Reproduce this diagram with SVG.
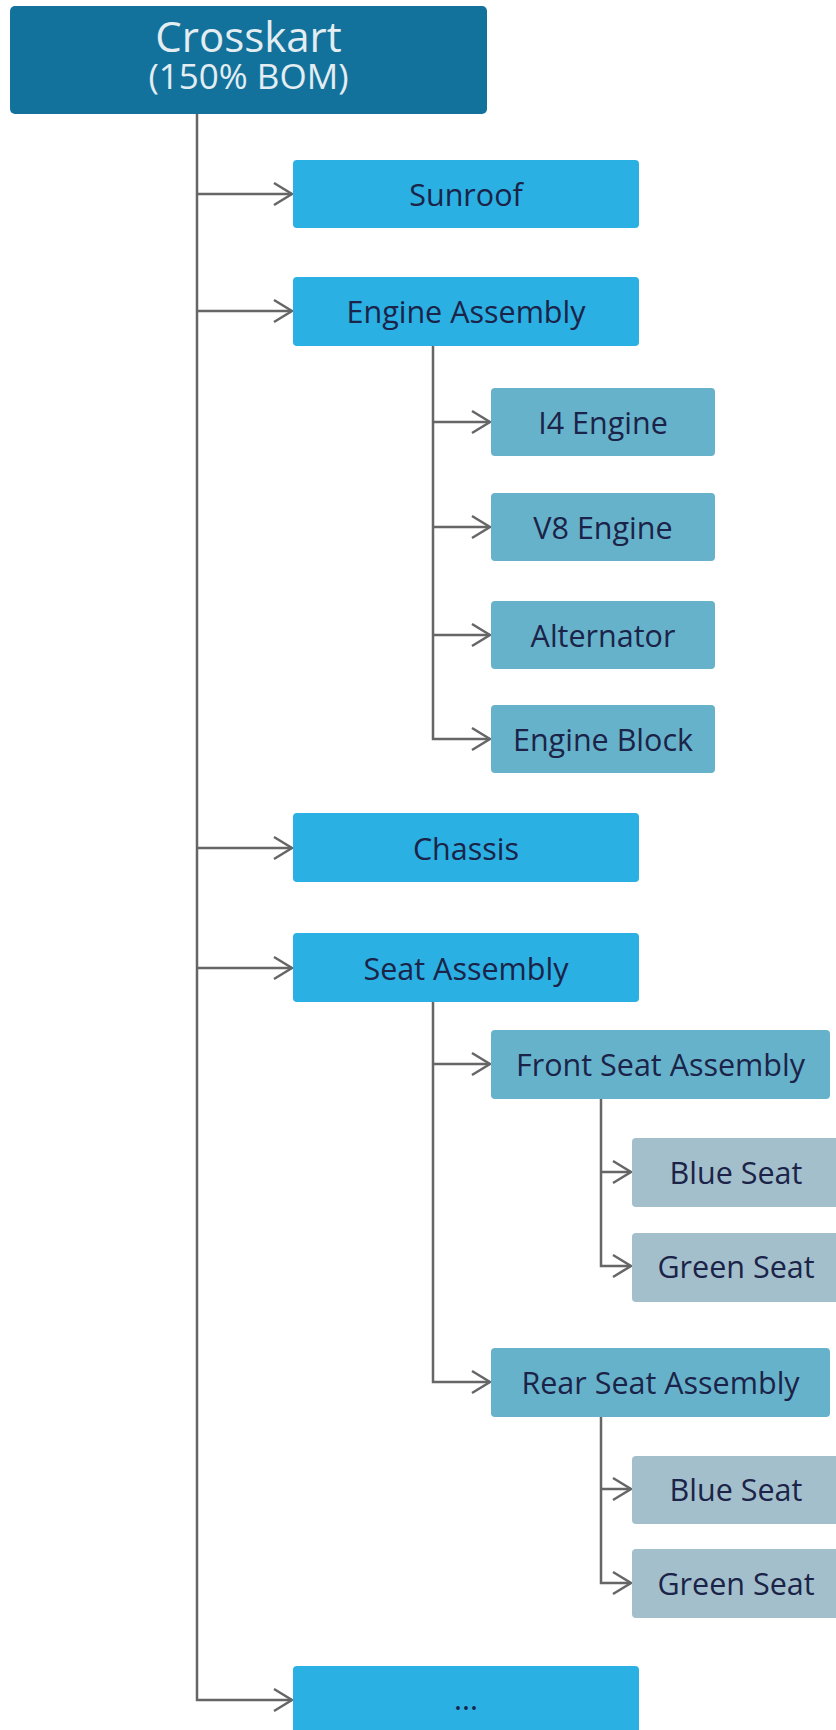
<svg xmlns="http://www.w3.org/2000/svg" width="836" height="1730" viewBox="0 0 836 1730">
<style>
.l1{fill:#2ab0e2}
.l2{fill:#67b2cb}
.l3{fill:#a3bfcc}
.t{font-family:"Open Sans","Noto Sans","Liberation Sans",sans-serif;font-size:30.5px;fill:#1b2448;text-anchor:middle;dominant-baseline:central}
.rt{font-family:"Open Sans","Noto Sans","Liberation Sans",sans-serif;fill:#e3edf2;text-anchor:middle}
.c{fill:none;stroke:#666;stroke-width:2.5}
</style>
<defs>
<marker id="arr" viewBox="-22 -13 24 26" refX="0" refY="0" markerWidth="24" markerHeight="26" markerUnits="userSpaceOnUse" orient="auto" overflow="visible">
<path d="M-18,-11 L0,0 L-18,11" fill="none" stroke="#666" stroke-width="2.5"/>
</marker>
</defs>
<rect width="836" height="1730" fill="#fff"/>
<g id="connectors">
<path class="c" d="M197,114 V1700 H292" marker-end="url(#arr)"/>
<path class="c" d="M197,194 H292" marker-end="url(#arr)"/>
<path class="c" d="M197,311 H292" marker-end="url(#arr)"/>
<path class="c" d="M197,848 H292" marker-end="url(#arr)"/>
<path class="c" d="M197,968 H292" marker-end="url(#arr)"/>
<path class="c" d="M433,346 V739 H490" marker-end="url(#arr)"/>
<path class="c" d="M433,422 H490" marker-end="url(#arr)"/>
<path class="c" d="M433,527 H490" marker-end="url(#arr)"/>
<path class="c" d="M433,635 H490" marker-end="url(#arr)"/>
<path class="c" d="M433,1002 V1382 H490" marker-end="url(#arr)"/>
<path class="c" d="M433,1064 H490" marker-end="url(#arr)"/>
<path class="c" d="M601,1099 V1266 H631" marker-end="url(#arr)"/>
<path class="c" d="M601,1172 H631" marker-end="url(#arr)"/>
<path class="c" d="M601,1417 V1583 H631" marker-end="url(#arr)"/>
<path class="c" d="M601,1489 H631" marker-end="url(#arr)"/>
</g>
<g id="root">
<rect x="10" y="6" width="477" height="108" rx="5" fill="#13729b"/>
<text class="rt"><tspan x="248.5" y="52" font-size="42">Crosskart</tspan><tspan x="248.5" y="89" font-size="35">(150% BOM)</tspan></text>
</g>
<g id="sunroof"><rect class="l1" x="293" y="160" width="346" height="68" rx="4"/><text class="t" x="466" y="194">Sunroof</text></g>
<g id="engine-assembly"><rect class="l1" x="293" y="277" width="346" height="69" rx="4"/><text class="t" x="466" y="311">Engine Assembly</text></g>
<g id="i4-engine"><rect class="l2" x="491" y="388" width="224" height="68" rx="4"/><text class="t" x="603" y="422">I4 Engine</text></g>
<g id="v8-engine"><rect class="l2" x="491" y="493" width="224" height="68" rx="4"/><text class="t" x="603" y="527">V8 Engine</text></g>
<g id="alternator"><rect class="l2" x="491" y="601" width="224" height="68" rx="4"/><text class="t" x="603" y="635">Alternator</text></g>
<g id="engine-block"><rect class="l2" x="491" y="705" width="224" height="68" rx="4"/><text class="t" x="603" y="739">Engine Block</text></g>
<g id="chassis"><rect class="l1" x="293" y="813" width="346" height="69" rx="4"/><text class="t" x="466" y="848">Chassis</text></g>
<g id="seat-assembly"><rect class="l1" x="293" y="933" width="346" height="69" rx="4"/><text class="t" x="466" y="968">Seat Assembly</text></g>
<g id="front-seat-assembly"><rect class="l2" x="491" y="1030" width="339" height="69" rx="4"/><text class="t" x="660.5" y="1064">Front Seat Assembly</text></g>
<g id="front-blue-seat"><rect class="l3" x="632" y="1138" width="208" height="69" rx="4"/><text class="t" x="736" y="1172">Blue Seat</text></g>
<g id="front-green-seat"><rect class="l3" x="632" y="1233" width="208" height="69" rx="4"/><text class="t" x="736" y="1266">Green Seat</text></g>
<g id="rear-seat-assembly"><rect class="l2" x="491" y="1348" width="339" height="69" rx="4"/><text class="t" x="660.5" y="1382">Rear Seat Assembly</text></g>
<g id="rear-blue-seat"><rect class="l3" x="632" y="1456" width="208" height="68" rx="4"/><text class="t" x="736" y="1489">Blue Seat</text></g>
<g id="rear-green-seat"><rect class="l3" x="632" y="1549" width="208" height="69" rx="4"/><text class="t" x="736" y="1583">Green Seat</text></g>
<g id="more"><rect class="l1" x="293" y="1666" width="346" height="80" rx="4"/><text class="t" x="466" y="1698">...</text></g>
</svg>
